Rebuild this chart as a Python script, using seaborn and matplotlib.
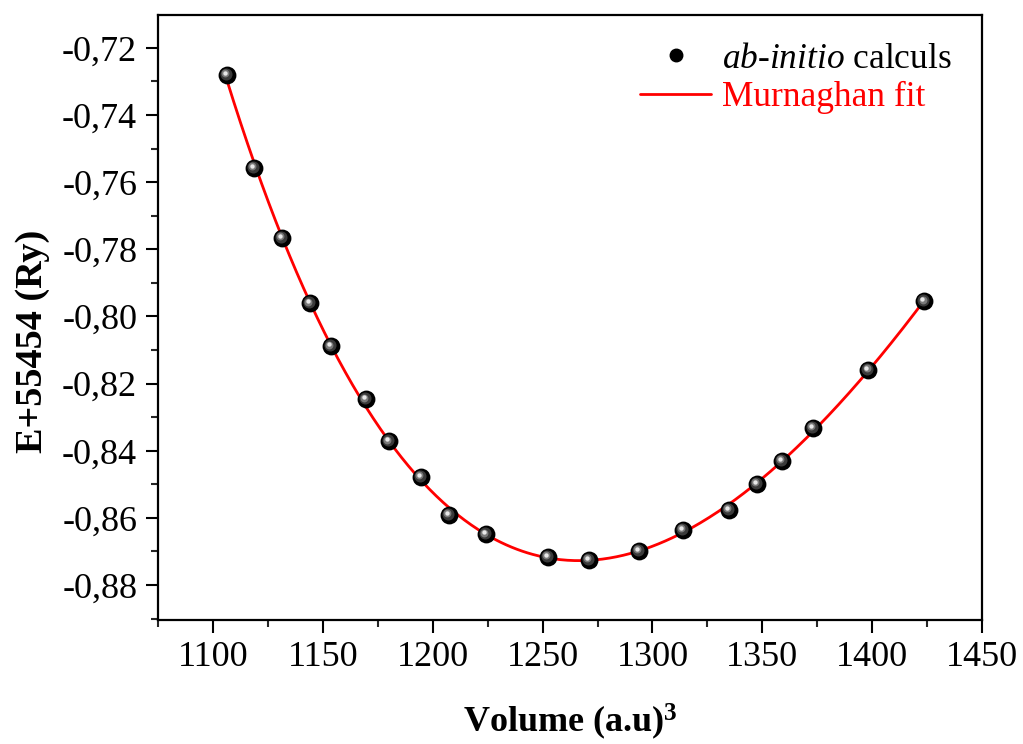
import numpy as np
import pandas as pd
import matplotlib
matplotlib.use("Agg")
import matplotlib.pyplot as plt
import matplotlib.transforms as mtransforms
from matplotlib.ticker import FuncFormatter, MultipleLocator
from matplotlib.lines import Line2D
import seaborn as sns

# ---- data ----
volume = [1106.2, 1118.6, 1131.3, 1144.0, 1153.6, 1169.5, 1180.0, 1194.6, 1207.3, 1224.2,
          1252.4, 1271.1, 1293.8, 1313.9, 1334.8, 1347.5, 1358.9, 1373.0, 1398.1, 1423.6]
energy = [-0.7280, -0.7557, -0.7766, -0.7960, -0.8088, -0.8246, -0.8371, -0.8478, -0.8591, -0.8648,
          -0.8716, -0.8725, -0.8698, -0.8636, -0.8576, -0.8499, -0.8430, -0.8332, -0.8159, -0.7954]
x_ticks = [1100, 1150, 1200, 1250, 1300, 1350, 1400, 1450]
y_ticks = [-0.88, -0.86, -0.84, -0.82, -0.80, -0.78, -0.76, -0.74, -0.72]

V = np.array(volume)
E = np.array(energy)

# ---- Murnaghan least-squares fit of the points ----
def murn_basis(v, V0, Bp):
    return v / Bp * ((V0 / v) ** Bp / (Bp - 1) + 1) - V0 / (Bp - 1)

best = None
for V0 in np.linspace(1230, 1310, 161):
    for Bp in np.linspace(1.5, 10, 86):
        A = np.column_stack([np.ones_like(V), murn_basis(V, V0, Bp)])
        coef, *_ = np.linalg.lstsq(A, E, rcond=None)
        res = np.sum((A @ coef - E) ** 2)
        if best is None or res < best[0]:
            best = (res, V0, Bp, coef)
_, V0f, Bpf, (E0f, Bf) = best
v_fit = np.linspace(V.min(), V.max(), 400)
e_fit = E0f + Bf * murn_basis(v_fit, V0f, Bpf)

pts = pd.DataFrame({"Volume": V, "Energy": E})
fit = pd.DataFrame({"Volume": v_fit, "Energy": e_fit})

# ---- style ----
sns.set_theme(style="ticks")
plt.rcParams["font.family"] = ["Liberation Serif", "DejaVu Serif"]
plt.rcParams["mathtext.fontset"] = "custom"
plt.rcParams["mathtext.rm"] = "Liberation Serif"
plt.rcParams["mathtext.it"] = "Liberation Serif:italic"
plt.rcParams["mathtext.bf"] = "Liberation Serif:bold"
plt.rcParams["text.color"] = "black"
plt.rcParams["axes.labelcolor"] = "black"

fig = plt.figure(figsize=(10.23, 7.44), dpi=100)
ax = fig.add_axes([0.1545, 0.1667, 0.8055, 0.8131])

sns.lineplot(data=fit, x="Volume", y="Energy", ax=ax, color="#ff0000", linewidth=2.0,
             sort=False, zorder=2)
sns.scatterplot(data=pts, x="Volume", y="Energy", ax=ax, color="black", s=165,
                edgecolor="black", linewidth=0, zorder=3)
# sphere highlights
for dx, dy, s, c in [(-0.6, 0.6, 75, "#3a3a3a"), (-1.1, 1.1, 32, "#7a7a7a"), (-1.5, 1.5, 10, "#e8e8e8")]:
    tr = mtransforms.offset_copy(ax.transData, fig=fig, x=dx, y=dy, units="points")
    ax.scatter(V, E, s=s, color=c, linewidth=0, transform=tr, zorder=4)

ax.set_xlim(1075, 1450)
ax.set_ylim(-0.8904, -0.7102)
ax.set_xticks(x_ticks)
ax.set_yticks(y_ticks)
ax.xaxis.set_minor_locator(MultipleLocator(25))
ax.yaxis.set_minor_locator(MultipleLocator(0.01))
ax.yaxis.set_major_formatter(FuncFormatter(lambda v, p: f"{v:.2f}".replace(".", ",")))
ax.xaxis.set_major_formatter(FuncFormatter(lambda v, p: f"{int(round(v))}"))

ax.tick_params(which="major", direction="out", length=9, width=1.5, labelsize=26, pad=6,
               colors="black", top=False, right=False)
ax.tick_params(which="minor", direction="out", length=5, width=1.5, top=False, right=False)
for sp in ax.spines.values():
    sp.set_visible(True)
    sp.set_linewidth(1.6)
    sp.set_color("black")

ax.set_xlabel(r"Volume (a.u)$^\mathbf{3}$", fontsize=26, fontweight="bold", labelpad=20,
              color="black")
ax.set_ylabel("E+55454 (Ry)", fontsize=27.5, fontweight="bold", color="black")
ax.yaxis.set_label_coords(-0.131, 0.461)

handles = [Line2D([], [], linestyle="none", marker="o", markersize=9, color="black"),
           Line2D([], [], color="#ff0000", linewidth=2.0)]
leg = ax.legend(handles, [r"$\it{ab}$-$\it{initio}$ calculs", "Murnaghan fit"],
                loc="upper right", frameon=False, fontsize=25.5, handlelength=2.0,
                handletextpad=0.3, labelspacing=0.15, borderaxespad=0.3,
                bbox_to_anchor=(0.993, 0.995))
leg.get_texts()[0].set_color("black")
leg.get_texts()[1].set_color("#ff0000")

fig.savefig("out.png", dpi=100)
